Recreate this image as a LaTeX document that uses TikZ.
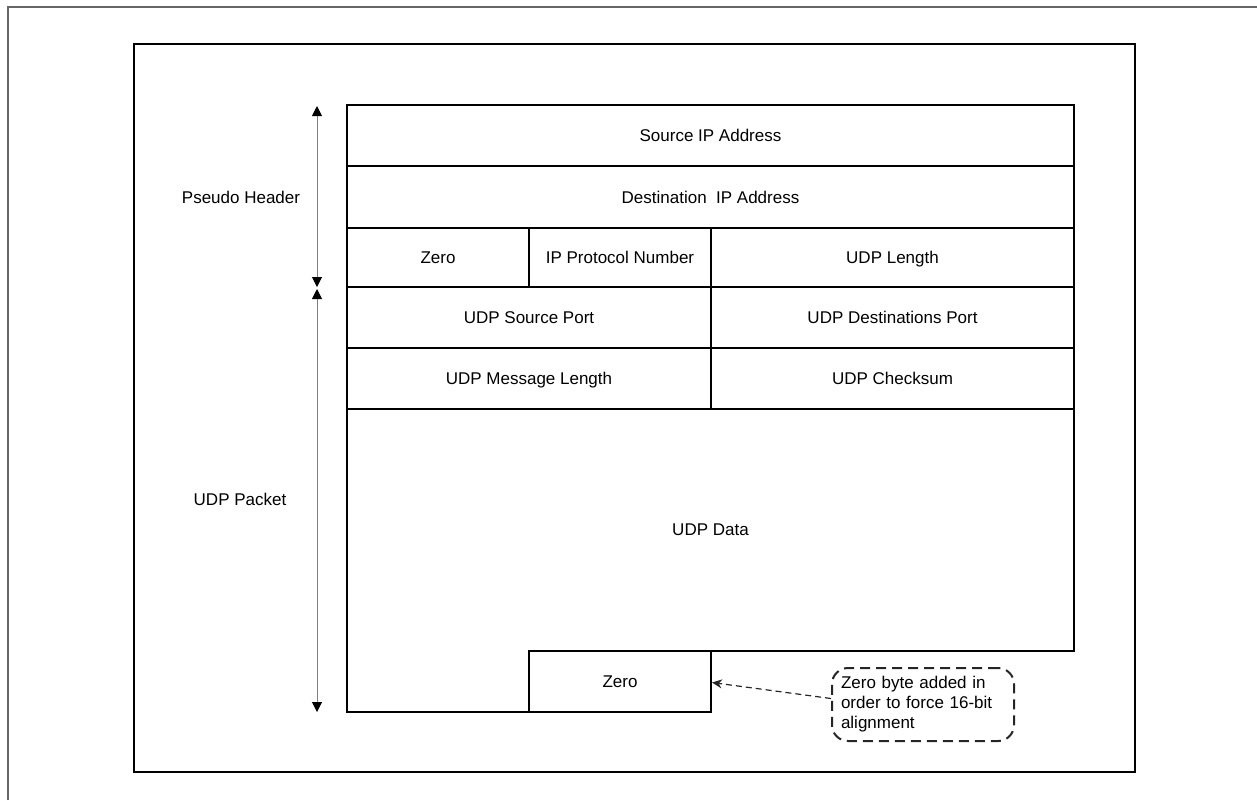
\documentclass[tikz,border=0pt]{standalone}
\usepackage{fontspec}
\setmainfont{Liberation Sans}
\usetikzlibrary{arrows.meta,positioning}
\begin{document}
\begin{tikzpicture}[x=0.5pt,y=-0.5pt,
  font=\fontsize{8.5pt}{10pt}\selectfont,
  cell/.style={draw=black, line width=1pt, inner sep=0pt, text height=7pt, text depth=0.9pt},
  dimarrow/.style={draw=gray, line width=0.5pt, {Triangle[color=black,width=5pt,length=5pt]}-{Triangle[color=black,width=5pt,length=5pt]}},
  notebox/.style={draw=black!85, line width=1pt, dash pattern=on 5pt off 3pt, rounded corners=8pt, align=left, text width=82pt, inner xsep=4.5pt, inner ysep=0pt, minimum height=36.5pt},
  notearrow/.style={draw=black!85, line width=0.6pt, dash pattern=on 3pt off 2pt, -{Stealth[length=5pt,width=4.5pt]}},
  lbl/.style={inner sep=0pt, text height=7pt, text depth=0.9pt}
]
\useasboundingbox (0,0) rectangle (1257,800);
% outer frame (cut off at right and bottom)
\draw[gray!80!black, line width=1pt] (8,800) -- (8,7) -- (1257,7);
% inner frame
\draw[black, line width=1pt] (134,44) rectangle (1135,772);

% table cells
\node[cell, minimum width=363.5pt, minimum height=30.5pt] (src) at (710.5,135.5) {Source IP Address};
\node[cell, minimum width=363.5pt, minimum height=31pt] (dst) at (710.5,197) {Destination\ \ IP Address};
\node[cell, minimum width=91pt, minimum height=29.5pt] (zero1) at (438,257.5) {Zero};
\node[cell, minimum width=91pt, minimum height=29.5pt] (ipp) at (620,257.5) {IP Protocol Number};
\node[cell, minimum width=181.5pt, minimum height=29.5pt] (udplen) at (892.5,257.5) {UDP Length};
\node[cell, minimum width=182pt, minimum height=30.5pt] (sport) at (529,317.5) {UDP Source Port};
\node[cell, minimum width=181.5pt, minimum height=30.5pt] (dport) at (892.5,317.5) {UDP Destinations Port};
\node[cell, minimum width=182pt, minimum height=30.5pt] (mlen) at (529,378.5) {UDP Message Length};
\node[cell, minimum width=181.5pt, minimum height=30.5pt] (chk) at (892.5,378.5) {UDP Checksum};
\draw[black, line width=1pt] (347,409) -- (1074,409) -- (1074,651) -- (711,651) -- (711,712) -- (347,712) -- cycle;
\node[lbl] (data) at (710.5,529) {UDP Data};
\node[cell, minimum width=91pt, minimum height=30.5pt] (zero2) at (620,681.5) {Zero};

% side dimension arrows
\coordinate (phtop) at (317,106);
\coordinate (phbot) at (317,287);
\coordinate (uptop) at (317,289);
\coordinate (upbot) at (317,712);
\draw[dimarrow] (phtop) -- (phbot);
\draw[dimarrow] (uptop) -- (upbot);
\node[lbl] (phlabel) at (241,197) {Pseudo Header};
\node[lbl] (uplabel) at (240,499) {UDP Packet};

% callout
\node[notebox] (note) at (923,704.5) {Zero byte added in\\order to force 16-bit\\alignment};
\draw[notearrow] ([yshift=3pt]note.west) -- ([yshift=-0.5pt]zero2.east);
\end{tikzpicture}
\end{document}
